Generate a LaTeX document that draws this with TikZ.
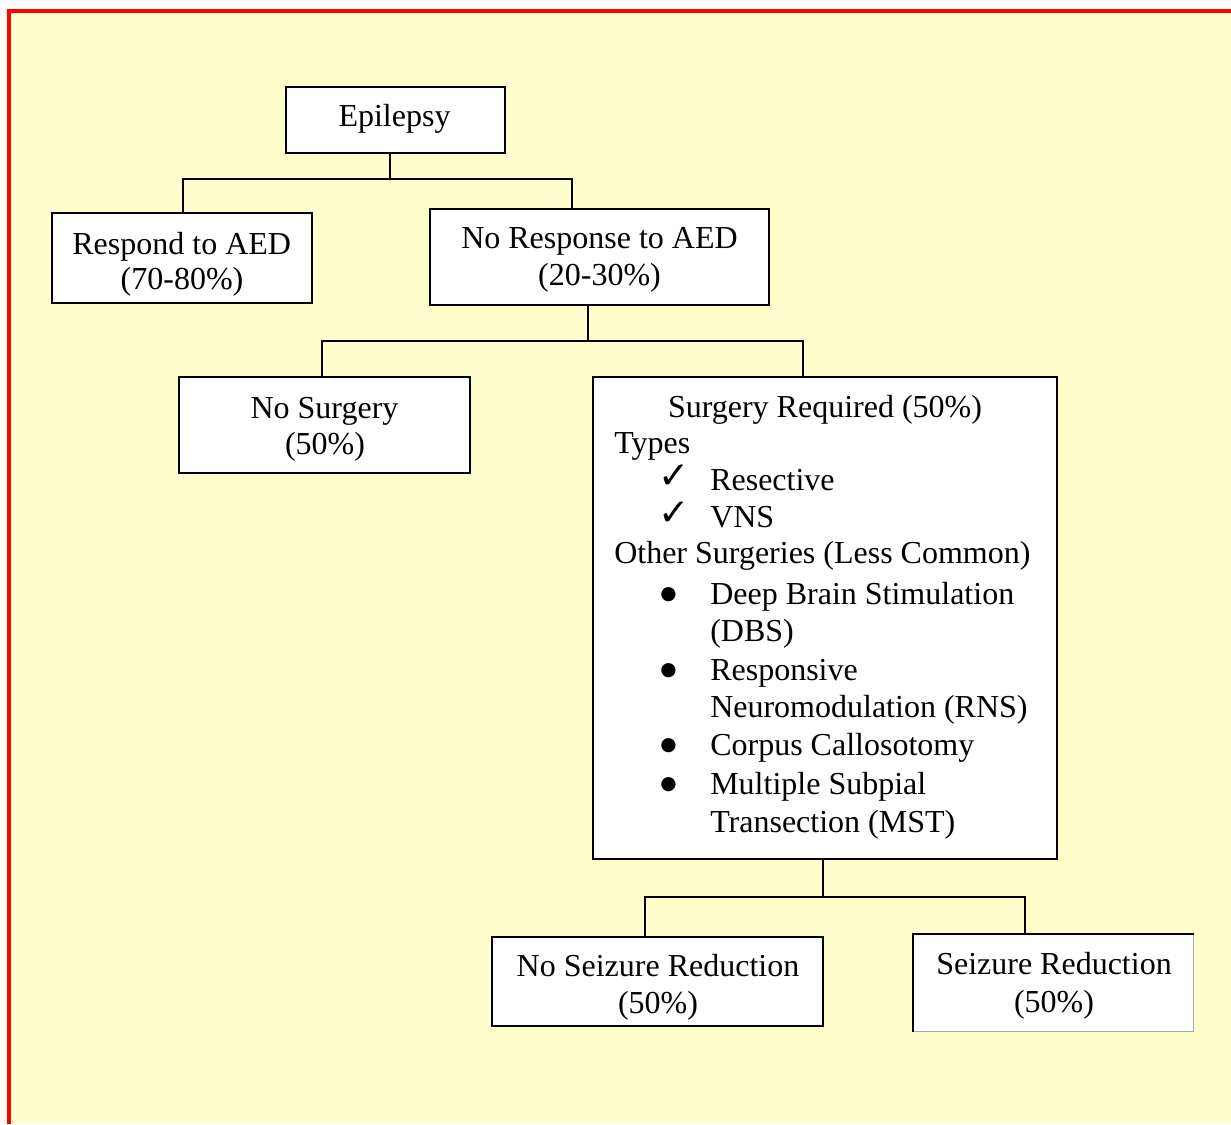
\documentclass[tikz,border=0pt]{standalone}
\usepackage{fontspec}
\setmainfont{Liberation Serif}
\newfontfamily\symfont{DejaVu Sans}
\definecolor{bgyellow}{RGB}{255,254,204}
\begin{document}
\begin{tikzpicture}[x=0.75pt,y=-0.75pt,
  box/.style={draw=black,line width=1.5pt,fill=white,inner sep=0pt,rectangle},
  conn/.style={draw=black,line width=1.5pt},
  txt/.style={anchor=base,inner sep=0pt,font=\fontsize{24pt}{27.75pt}\selectfont},
  txtl/.style={anchor=base west,inner sep=0pt,font=\fontsize{24pt}{27.75pt}\selectfont},
  chk/.style={anchor=base,inner sep=0pt,font=\symfont\fontsize{28pt}{30pt}\selectfont},
  bul/.style={anchor=center,inner sep=0pt,font=\symfont\fontsize{14pt}{16pt}\selectfont}]
\useasboundingbox (0,0) rectangle (1231,1124);
\fill[white] (0,0) rectangle (1231,1124);
\fill[bgyellow] (9,11) rectangle (1231,1124);
\draw[red,line width=3pt] (9,1124) -- (9,11) -- (1231,11);

% boxes
\node[box,minimum width=164.25pt,minimum height=49.5pt] (epi) at (395.5,120) {};
\node[box,minimum width=195pt,minimum height=67.5pt] (resp) at (181.7,257.7) {};
\node[box,minimum width=254.25pt,minimum height=72pt] (noresp) at (599.5,257) {};
\node[box,minimum width=218.25pt,minimum height=72pt] (nosurg) at (324.5,425) {};
\node[box,minimum width=348pt,minimum height=361.5pt] (surg) at (824.7,618) {};
\node[box,minimum width=248.25pt,minimum height=66.75pt] (noseiz) at (657.8,981.7) {};
\node[box,draw=gray!70,line width=0.8pt,minimum width=210pt,minimum height=73pt] (seiz) at (1053.3,983) {};
\draw[black,line width=1.5pt] (seiz.south west) -- (seiz.north west) -- (seiz.north east);

% texts
\node[txt] (tepi) at (394.5,127) {Epilepsy};
\node[txt] (tresp1) at (181.7,254) {Respond to AED};
\node[txt] (tresp2) at (182,289) {(70-80\%)};
\node[txt] (tnoresp1) at (599.5,248) {No Response to AED};
\node[txt] (tnoresp2) at (599.5,285) {(20-30\%)};
\node[txt] (tnosurg1) at (324.5,418) {No Surgery};
\node[txt] (tnosurg2) at (325,454) {(50\%)};
\node[txt] (tnoseiz1) at (658,976) {No Seizure Reduction};
\node[txt] (tnoseiz2) at (658,1013) {(50\%)};
\node[txt] (tseiz1) at (1054,974.5) {Seizure Reduction};
\node[txt] (tseiz2) at (1054,1012) {(50\%)};

\node[txt] (tsurg) at (825,417) {Surgery Required (50\%)};
\node[txtl] (ttypes) at (614,453) {Types};
\node[chk] (c1) at (674.5,488) {✓};
\node[txtl] (tres) at (710,490) {Resective};
\node[chk] (c2) at (674.5,525) {✓};
\node[txtl] (tvns) at (710,527) {VNS};
\node[txtl] (tother) at (614,563) {Other Surgeries (Less Common)};
\node[bul] (b1) at (668.5,595) {●};
\node[txtl] (tdbs1) at (710,604) {Deep Brain Stimulation};
\node[txtl] (tdbs2) at (710,641) {(DBS)};
\node[bul] (b2) at (668.5,671) {●};
\node[txtl] (trns1) at (710,680) {Responsive};
\node[txtl] (trns2) at (710,717) {Neuromodulation (RNS)};
\node[bul] (b3) at (668.5,746) {●};
\node[txtl] (tcc) at (710,755) {Corpus Callosotomy};
\node[bul] (b4) at (668.5,785) {●};
\node[txtl] (tmst1) at (710,794) {Multiple Subpial};
\node[txtl] (tmst2) at (710,832) {Transection (MST)};

% connectors
\coordinate (j1) at (390,179);
\coordinate (j1l) at (183,179);
\coordinate (j1r) at (572,179);
\draw[conn] (epi.south -| j1) -- (j1);
\draw[conn] (resp.north -| j1l) -- (j1l) -- (j1r) -- (noresp.north -| j1r);

\coordinate (j2) at (588,341);
\coordinate (j2l) at (322,341);
\coordinate (j2r) at (803,341);
\draw[conn] (noresp.south -| j2) -- (j2);
\draw[conn] (nosurg.north -| j2l) -- (j2l) -- (j2r) -- (surg.north -| j2r);

\coordinate (j3) at (823,897);
\coordinate (j3l) at (645,897);
\coordinate (j3r) at (1025,897);
\draw[conn] (surg.south -| j3) -- (j3);
\draw[conn] (noseiz.north -| j3l) -- (j3l) -- (j3r) -- (seiz.north -| j3r);
\end{tikzpicture}
\end{document}
